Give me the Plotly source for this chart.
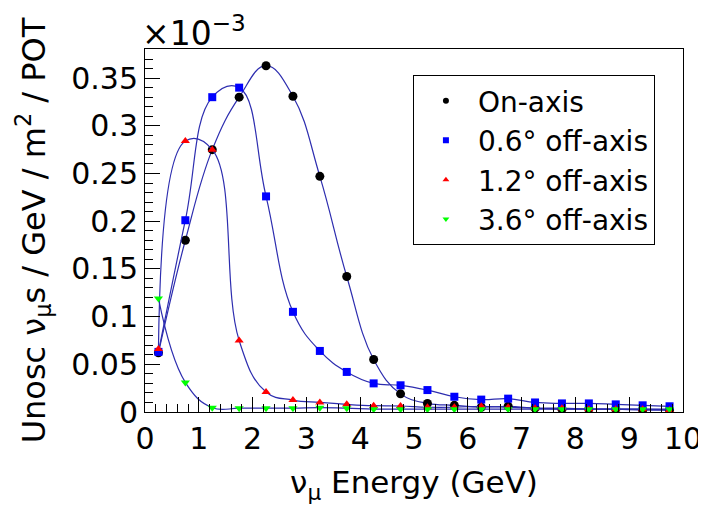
import plotly.graph_objects as go

# Bin centres (GeV)
energy = [0.25, 0.75, 1.25, 1.75, 2.25, 2.75, 3.25, 3.75, 4.25, 4.75,
          5.25, 5.75, 6.25, 6.75, 7.25, 7.75, 8.25, 8.75, 9.25, 9.75]

# Flux values in units of 1e-3 nu_mu / GeV / m^2 / POT
on_axis = [0.062, 0.180, 0.275, 0.330, 0.363, 0.331, 0.247, 0.142, 0.055, 0.019,
           0.009, 0.007, 0.005, 0.006, 0.004, 0.003, 0.003, 0.003, 0.002, 0.002]
off_axis_06 = [0.063, 0.201, 0.330, 0.340, 0.226, 0.105, 0.064, 0.042, 0.030, 0.028,
               0.023, 0.016, 0.013, 0.014, 0.010, 0.009, 0.009, 0.008, 0.007, 0.006]
off_axis_12 = [0.066, 0.284, 0.275, 0.075, 0.021, 0.0125, 0.010, 0.008, 0.0066, 0.0063,
               0.005, 0.005, 0.006, 0.005, 0.004, 0.004, 0.003, 0.003, 0.003, 0.002]
off_axis_36 = [0.119, 0.031, 0.0045, 0.004, 0.004, 0.004, 0.0045, 0.004, 0.003, 0.003,
               0.003, 0.003, 0.003, 0.003, 0.003, 0.003, 0.003, 0.003, 0.003, 0.003]

series_names = ["On-axis", "0.6° off-axis", "1.2° off-axis", "3.6° off-axis"]
series_values = [on_axis, off_axis_06, off_axis_12, off_axis_36]
series_colors = ["#000000", "#0000ff", "#ff0000", "#00ff00"]
series_symbols = ["circle", "square", "triangle-up", "triangle-down"]
series_sizes = [9, 8, 8, 8]

FONT = "DejaVu Sans"
LINE_COLOR = "rgb(45,45,175)"

fig = go.Figure()

for name, vals, col, sym, sz in zip(series_names, series_values, series_colors,
                                    series_symbols, series_sizes):
    fig.add_trace(go.Scatter(
        x=energy, y=vals, mode="lines",
        line=dict(color=LINE_COLOR, width=1.2, shape="spline", smoothing=1.2),
        showlegend=False, hoverinfo="skip"))
    fig.add_trace(go.Scatter(
        x=energy, y=vals, mode="markers", name=name,
        marker=dict(symbol=sym, color=col, size=sz, line=dict(width=0)),
        showlegend=False))
    # small legend marker
    fig.add_trace(go.Scatter(
        x=[None], y=[None], mode="markers", name=name,
        marker=dict(symbol=sym, color=col, size=6, line=dict(width=0)),
        showlegend=True))

# The page body has an 8px default margin, so the figure is 8px smaller.
fig.update_layout(
    width=698, height=499,
    margin=dict(l=137, r=23, t=41, b=95, autoexpand=False),
    paper_bgcolor="white", plot_bgcolor="white",
    font=dict(family=FONT, size=28, color="black"),
    showlegend=True,
    legend=dict(
        x=0.498, y=0.928, xanchor="left", yanchor="top",
        bgcolor="white", bordercolor="black", borderwidth=1,
        font=dict(family=FONT, size=28, color="black"),
        itemwidth=54, tracegroupgap=0,
    ),
    xaxis=dict(
        range=[0, 10], dtick=1, tick0=0, automargin=False,
        showgrid=False, zeroline=False,
        showline=True, linecolor="black", linewidth=1, mirror=True,
        ticks="inside", ticklen=15, tickcolor="black", tickwidth=1,
        minor=dict(ticks="inside", ticklen=8, dtick=0.2, tickcolor="black", showgrid=False),
        tickfont=dict(family=FONT, size=30),
        title=dict(text="ν<sub>μ</sub> Energy (GeV)", font=dict(family=FONT, size=31),
                   standoff=16),
    ),
    yaxis=dict(
        range=[0, 0.3805], dtick=0.05, tick0=0, automargin=False,
        showgrid=False, zeroline=False,
        showline=True, linecolor="black", linewidth=1, mirror=True,
        ticks="inside", ticklen=15, tickcolor="black", tickwidth=1,
        minor=dict(ticks="inside", ticklen=8, dtick=0.01, tickcolor="black", showgrid=False),
        tickfont=dict(family=FONT, size=30),
        title=dict(text="Unosc ν<sub>μ</sub>s / GeV / m<sup>2</sup> / POT",
                   font=dict(family=FONT, size=32), standoff=16),
    ),
    annotations=[dict(
        text="×10<sup>−3</sup>", xref="paper", yref="paper",
        x=-0.01, y=1, xanchor="left", yanchor="bottom", yshift=-6,
        showarrow=False, font=dict(family=FONT, size=33, color="black"))],
)

fig.write_html("out.html")
